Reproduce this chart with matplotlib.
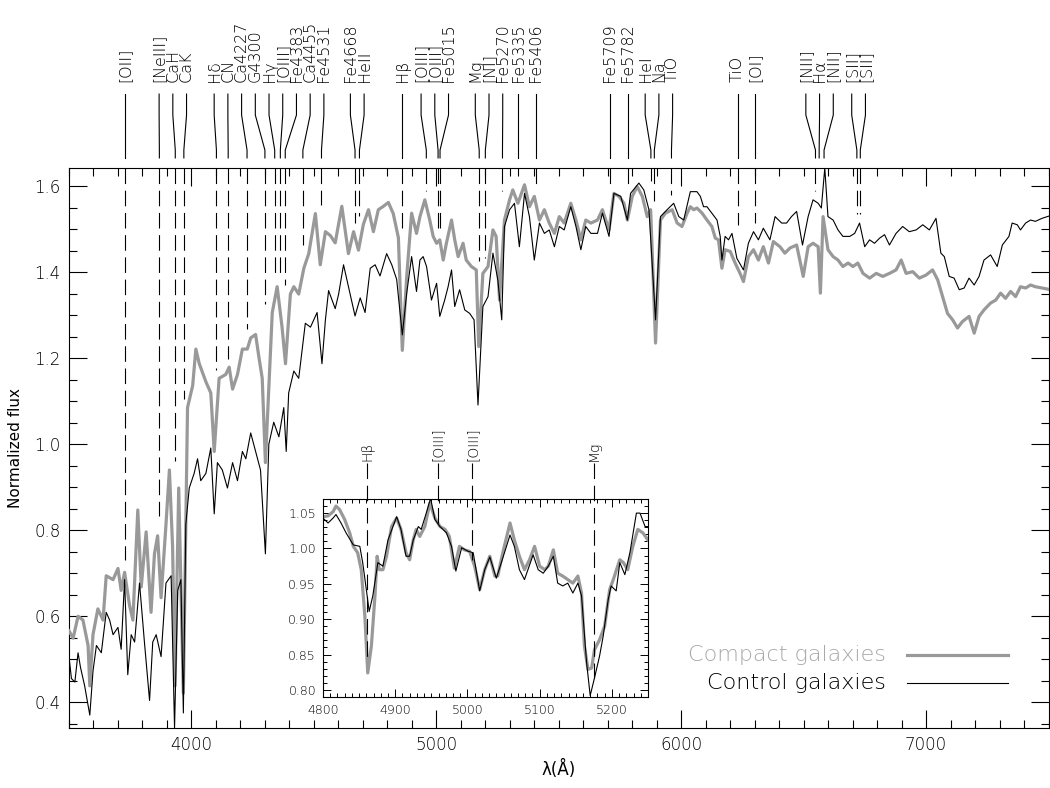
import numpy as np
import matplotlib
matplotlib.use('Agg')
import matplotlib.pyplot as plt
from matplotlib.ticker import MultipleLocator, FormatStrFormatter

plt.rcParams['font.family'] = ['DejaVu Sans']
plt.rcParams['font.weight'] = 'light'

# ---- composite spectra ----
wave_compact = [3500, 3517, 3537, 3557, 3578, 3585, 3598, 3618, 3639, 3652, 3680, 3700, 3713, 3727,
                3747, 3761, 3781, 3795, 3815, 3835, 3849, 3862, 3876, 3896, 3910, 3923, 3933, 3948,
                3967, 3984, 4005, 4018, 4032, 4059, 4079, 4093, 4113, 4140, 4154, 4168, 4188, 4208,
                4228, 4242, 4262, 4275, 4289, 4302, 4330, 4350, 4370, 4384, 4404, 4418, 4438, 4459,
                4479, 4506, 4526, 4547, 4567, 4587, 4614, 4641, 4662, 4682, 4702, 4723, 4743, 4763,
                4784, 4804, 4824, 4845, 4861, 4879, 4899, 4919, 4933, 4953, 4973, 4987, 5001, 5014,
                5028, 5041, 5062, 5075, 5089, 5109, 5122, 5143, 5163, 5173, 5190, 5211, 5231, 5244,
                5258, 5278, 5299, 5312, 5333, 5360, 5380, 5400, 5421, 5441, 5461, 5482, 5502, 5522,
                5549, 5570, 5590, 5610, 5631, 5658, 5678, 5705, 5725, 5746, 5766, 5780, 5800, 5820,
                5841, 5861, 5875, 5895, 5915, 5935, 5963, 5983, 6003, 6024, 6037, 6051, 6064, 6085,
                6105, 6125, 6139, 6152, 6166, 6179, 6200, 6220, 6240, 6254, 6274, 6295, 6315, 6335,
                6356, 6376, 6403, 6423, 6444, 6471, 6498, 6518, 6538, 6559, 6568, 6579, 6599, 6620,
                6640, 6660, 6681, 6701, 6721, 6742, 6769, 6796, 6823, 6850, 6877, 6898, 6918, 6945,
                6972, 6999, 7026, 7047, 7067, 7087, 7108, 7128, 7148, 7175, 7196, 7216, 7236, 7263,
                7284, 7304, 7324, 7345, 7365, 7385, 7406, 7426, 7446, 7473, 7500]
flux_compact = [0.566, 0.549, 0.600, 0.591, 0.532, 0.438, 0.557, 0.617, 0.591, 0.694, 0.685, 0.711, 0.660, 0.702,
                0.626, 0.591, 0.847, 0.668, 0.796, 0.609, 0.745, 0.787, 0.643, 0.813, 0.940, 0.762, 0.438, 0.898,
                0.421, 1.085, 1.136, 1.221, 1.187, 1.145, 1.119, 0.983, 1.153, 1.162, 1.179, 1.128, 1.162, 1.221,
                1.221, 1.247, 1.255, 1.204, 1.153, 0.957, 1.306, 1.366, 1.272, 1.187, 1.349, 1.366, 1.349, 1.409,
                1.443, 1.536, 1.417, 1.494, 1.485, 1.468, 1.553, 1.443, 1.494, 1.451, 1.511, 1.545, 1.494, 1.545,
                1.553, 1.562, 1.536, 1.480, 1.218, 1.390, 1.537, 1.490, 1.529, 1.568, 1.521, 1.483, 1.467, 1.475,
                1.428, 1.467, 1.521, 1.475, 1.436, 1.467, 1.428, 1.413, 1.405, 1.227, 1.397, 1.413, 1.498, 1.483,
                1.335, 1.521, 1.568, 1.591, 1.560, 1.603, 1.552, 1.576, 1.521, 1.545, 1.514, 1.490, 1.529, 1.514,
                1.560, 1.521, 1.475, 1.521, 1.514, 1.521, 1.545, 1.498, 1.583, 1.576, 1.560, 1.521, 1.576, 1.599,
                1.576, 1.529, 1.545, 1.235, 1.521, 1.537, 1.545, 1.514, 1.506, 1.537, 1.552, 1.545, 1.549, 1.537,
                1.521, 1.506, 1.479, 1.475, 1.409, 1.452, 1.448, 1.421, 1.397, 1.378, 1.436, 1.452, 1.428, 1.459,
                1.421, 1.471, 1.459, 1.444, 1.456, 1.463, 1.390, 1.459, 1.467, 1.459, 1.351, 1.529, 1.452, 1.436,
                1.428, 1.413, 1.421, 1.413, 1.421, 1.397, 1.386, 1.397, 1.390, 1.397, 1.405, 1.428, 1.397, 1.401,
                1.386, 1.393, 1.405, 1.382, 1.343, 1.304, 1.289, 1.270, 1.285, 1.297, 1.258, 1.297, 1.312, 1.328,
                1.335, 1.351, 1.339, 1.355, 1.343, 1.366, 1.363, 1.370, 1.366, 1.363, 1.360]

wave_control = [3500, 3510, 3524, 3537, 3547, 3564, 3585, 3598, 3612, 3632, 3652, 3666, 3680, 3700,
                3713, 3727, 3740, 3754, 3768, 3788, 3808, 3829, 3842, 3856, 3876, 3896, 3917, 3931,
                3944, 3957, 3967, 3977, 3991, 4011, 4025, 4038, 4059, 4079, 4093, 4106, 4126, 4147,
                4168, 4188, 4208, 4222, 4242, 4262, 4282, 4302, 4316, 4336, 4357, 4377, 4387, 4397,
                4418, 4438, 4465, 4486, 4513, 4533, 4547, 4560, 4587, 4601, 4621, 4641, 4668, 4689,
                4709, 4730, 4750, 4770, 4797, 4818, 4838, 4861, 4879, 4899, 4919, 4933, 4946, 4960,
                4980, 5001, 5014, 5034, 5048, 5062, 5075, 5095, 5116, 5136, 5154, 5170, 5190, 5211,
                5231, 5251, 5267, 5278, 5299, 5319, 5339, 5360, 5380, 5400, 5421, 5441, 5461, 5482,
                5502, 5522, 5549, 5570, 5590, 5610, 5631, 5658, 5678, 5705, 5725, 5753, 5780, 5793,
                5827, 5847, 5868, 5895, 5915, 5942, 5969, 5990, 6010, 6037, 6064, 6078, 6091, 6105,
                6125, 6146, 6159, 6166, 6179, 6193, 6207, 6227, 6254, 6274, 6295, 6315, 6335, 6362,
                6383, 6410, 6430, 6450, 6471, 6495, 6518, 6538, 6559, 6572, 6586, 6599, 6620, 6640,
                6660, 6688, 6708, 6728, 6749, 6769, 6789, 6810, 6830, 6850, 6877, 6904, 6931, 6959,
                6986, 7013, 7040, 7060, 7074, 7094, 7114, 7135, 7155, 7175, 7196, 7216, 7236, 7263,
                7290, 7311, 7338, 7351, 7372, 7385, 7406, 7426, 7446, 7473, 7500]
flux_control = [0.506, 0.455, 0.447, 0.515, 0.481, 0.438, 0.370, 0.472, 0.532, 0.515, 0.609, 0.591, 0.557, 0.574,
                0.523, 0.685, 0.464, 0.557, 0.540, 0.677, 0.540, 0.404, 0.540, 0.557, 0.506, 0.677, 0.694, 0.340,
                0.660, 0.685, 0.375, 0.813, 0.898, 0.932, 0.966, 0.915, 0.932, 0.991, 0.838, 0.957, 0.940, 0.898,
                0.957, 0.915, 0.983, 0.966, 1.026, 0.983, 0.940, 0.745, 1.000, 1.051, 1.017, 1.085, 0.983, 1.119,
                1.170, 1.153, 1.281, 1.272, 1.306, 1.187, 1.289, 1.357, 1.315, 1.349, 1.417, 1.366, 1.298, 1.340,
                1.306, 1.409, 1.417, 1.391, 1.443, 1.417, 1.383, 1.254, 1.351, 1.436, 1.355, 1.428, 1.436, 1.413,
                1.335, 1.374, 1.297, 1.335, 1.366, 1.405, 1.320, 1.359, 1.312, 1.304, 1.289, 1.091, 1.320, 1.343,
                1.444, 1.382, 1.289, 1.506, 1.545, 1.560, 1.459, 1.583, 1.529, 1.428, 1.514, 1.490, 1.498, 1.459,
                1.506, 1.498, 1.552, 1.506, 1.452, 1.506, 1.490, 1.490, 1.537, 1.483, 1.583, 1.576, 1.521, 1.583,
                1.607, 1.591, 1.545, 1.289, 1.529, 1.545, 1.560, 1.529, 1.521, 1.587, 1.587, 1.576, 1.552, 1.552,
                1.537, 1.521, 1.483, 1.428, 1.483, 1.475, 1.490, 1.432, 1.405, 1.467, 1.494, 1.475, 1.502, 1.475,
                1.529, 1.514, 1.514, 1.529, 1.541, 1.463, 1.529, 1.568, 1.560, 1.549, 1.642, 1.529, 1.521, 1.498,
                1.483, 1.483, 1.490, 1.514, 1.459, 1.475, 1.467, 1.479, 1.487, 1.463, 1.490, 1.506, 1.494, 1.498,
                1.510, 1.498, 1.525, 1.444, 1.436, 1.390, 1.386, 1.359, 1.363, 1.386, 1.370, 1.390, 1.428, 1.440,
                1.413, 1.463, 1.483, 1.514, 1.510, 1.498, 1.514, 1.521, 1.518, 1.525, 1.530]

# ---- inset: Hbeta - Mg region ----
inset_wave_compact = [4800, 4807, 4814, 4818, 4823, 4830, 4837, 4842, 4848, 4853, 4858, 4862, 4867, 4872,
                      4875, 4878, 4883, 4888, 4895, 4902, 4908, 4915, 4920, 4925, 4929, 4934, 4941, 4948,
                      4955, 4962, 4969, 4975, 4982, 4989, 4996, 5003, 5010, 5017, 5024, 5031, 5038, 5042,
                      5049, 5059, 5065, 5072, 5079, 5086, 5093, 5100, 5107, 5112, 5119, 5125, 5132, 5139,
                      5146, 5153, 5158, 5162, 5167, 5172, 5176, 5183, 5190, 5197, 5202, 5211, 5216, 5222,
                      5229, 5236, 5243, 5250]
inset_flux_compact = [1.045, 1.046, 1.052, 1.060, 1.055, 1.041, 1.022, 1.003, 0.994, 0.970, 0.904, 0.824, 0.862, 0.933,
                      0.989, 0.970, 0.970, 0.989, 1.031, 1.043, 1.027, 0.994, 0.984, 1.012, 1.027, 1.017, 1.031, 1.064,
                      1.043, 1.031, 1.027, 1.017, 0.972, 1.003, 0.998, 0.996, 0.975, 0.942, 0.970, 0.989, 0.961, 0.961,
                      0.994, 1.036, 1.012, 0.989, 0.970, 0.984, 1.003, 0.975, 0.970, 0.975, 0.998, 0.965, 0.961, 0.956,
                      0.951, 0.961, 0.937, 0.862, 0.829, 0.831, 0.857, 0.871, 0.890, 0.942, 0.956, 0.984, 0.980, 0.970,
                      1.003, 1.027, 1.022, 1.012]
inset_wave_control = [4800, 4807, 4814, 4818, 4825, 4832, 4842, 4851, 4855, 4860, 4864, 4869, 4876, 4883,
                      4890, 4902, 4908, 4915, 4920, 4925, 4932, 4936, 4943, 4949, 4955, 4962, 4971, 4978,
                      4984, 4992, 5001, 5008, 5017, 5024, 5031, 5040, 5047, 5059, 5065, 5072, 5079, 5091,
                      5098, 5105, 5112, 5119, 5125, 5132, 5139, 5146, 5153, 5158, 5165, 5170, 5176, 5183,
                      5188, 5195, 5199, 5206, 5211, 5218, 5225, 5234, 5239, 5246, 5250]
inset_flux_control = [1.043, 1.036, 1.043, 1.048, 1.036, 1.022, 1.005, 1.003, 0.980, 0.942, 0.911, 0.933, 0.980, 0.975,
                      1.012, 1.045, 1.027, 0.989, 0.989, 1.012, 1.031, 1.027, 1.050, 1.071, 1.041, 1.031, 1.022, 1.003,
                      0.968, 1.001, 0.996, 0.994, 0.940, 0.970, 0.988, 0.958, 0.980, 1.019, 1.003, 0.970, 0.956, 0.991,
                      0.970, 0.965, 0.975, 0.989, 0.951, 0.947, 0.951, 0.937, 0.951, 0.933, 0.839, 0.792, 0.817, 0.848,
                      0.876, 0.928, 0.947, 0.940, 0.980, 0.963, 0.994, 1.050, 1.050, 1.031, 1.031]

# ---- spectral features ----
line_names = ['[OII]', '[NeIII]', 'CaH', 'CaK', 'Hδ', 'CN', 'Ca4227', 'G4300', 'Hγ', '[OIII]',
              'Fe4383', 'Ca4455', 'Fe4531', 'Fe4668', 'HeII', 'Hβ', '[OIII]', '[OIII]', 'Fe5015',
              'Mg', '[NI]', 'Fe5270', 'Fe5335', 'Fe5406', 'Fe5709', 'Fe5782', 'HeI', 'Na', 'TiO',
              'TiO', '[OI]', '[NII]', 'Hα', '[NII]', '[SII]', '[SII]']
line_waves = [3727, 3869, 3934, 3969, 4102, 4150, 4227, 4300, 4340, 4363,
              4383, 4455, 4531, 4668, 4686, 4861, 4959, 5007, 5015,
              5175, 5200, 5270, 5335, 5406, 5709, 5782, 5876, 5890, 5960,
              6230, 6300, 6548, 6563, 6583, 6717, 6731]
inset_names = ['Hβ', '[OIII]', '[OIII]', 'Mg']
inset_waves = [4861, 4959, 5007, 5175]

GREY = '#999999'


def spread_labels(x, sep):
    """merge overlapping labels into evenly spaced groups centred on their lines"""
    groups = [[v] for v in x]
    changed = True
    while changed:
        changed = False
        pos = []
        for g in groups:
            c = np.mean(g)
            pos.append((c - sep * (len(g) - 1) / 2, c + sep * (len(g) - 1) / 2))
        for i in range(len(groups) - 1):
            if pos[i + 1][0] - pos[i][1] < sep:
                groups[i] = groups[i] + groups.pop(i + 1)
                changed = True
                break
    out = []
    for g in groups:
        c = np.mean(g)
        out += list(c + sep * (np.arange(len(g)) - (len(g) - 1) / 2))
    return out


fig = plt.figure(figsize=(10.5, 7.88), dpi=100)
ax = fig.add_axes([0.0657, 0.0761, 0.933, 0.7107])

ax.plot(wave_compact, flux_compact, color=GREY, lw=2.3, zorder=3)
ax.plot(wave_control, flux_control, color='black', lw=0.8, zorder=4)

ax.set_xlim(3500, 7500)
ax.set_ylim(0.34, 1.642)
ax.xaxis.set_major_locator(MultipleLocator(1000))
ax.xaxis.set_minor_locator(MultipleLocator(100))
ax.yaxis.set_major_locator(MultipleLocator(0.2))
ax.yaxis.set_minor_locator(MultipleLocator(0.05))
ax.yaxis.set_major_formatter(FormatStrFormatter('%.1f'))
ax.tick_params(which='both', direction='in', top=True, right=True, width=0.8, labelsize=12)
ax.tick_params(which='major', length=13, pad=6)
ax.tick_params(which='minor', length=6)
for s in ax.spines.values():
    s.set_linewidth(0.8)
ax.set_xlabel('λ(Å)', fontsize=12, labelpad=4)
ax.set_ylabel('Normalized flux', fontsize=11, labelpad=8)

# dashed markers in the plot, ending just above the spectra
wc = np.array(wave_compact)
wk = np.array(wave_control)
fc = np.array(flux_compact)
fk = np.array(flux_control)
ytop = ax.get_ylim()[1]
for w in line_waves:
    near = max(fc[np.abs(wc - w) <= 30].max(initial=0), fk[np.abs(wk - w) <= 30].max(initial=0),
               np.interp(w, wc, fc), np.interp(w, wk, fk))
    yend = near + 0.02
    if yend < ytop - 0.01:
        ax.plot([w, w], [ytop, yend], color='black', lw=0.8, ls=(0, (14, 6)), zorder=2)

# labels above the frame, connected to their wavelengths
tr = ax.get_xaxis_transform()
label_x = spread_labels(line_waves, 56)
for name, w, lx in zip(line_names, line_waves, label_x):
    ax.plot([lx, lx, w, w], [1.132, 1.0946, 1.032, 1.018], color='black', lw=0.8,
            transform=tr, clip_on=False)
    ax.text(lx, 1.154, name, rotation=90, ha='center', va='bottom', fontsize=11.5,
            transform=tr)

# legend
ax.text(0.834, 0.130, 'Compact galaxies', color='#a8a8a8', fontsize=16, ha='right',
        va='center', transform=ax.transAxes)
ax.plot([0.855, 0.959], [0.130, 0.130], color=GREY, lw=2.3, transform=ax.transAxes)
ax.text(0.834, 0.080, 'Control galaxies', color='black', fontsize=16, ha='right',
        va='center', transform=ax.transAxes)
ax.plot([0.855, 0.959], [0.080, 0.080], color='black', lw=0.8, transform=ax.transAxes)

# inset
ins = fig.add_axes([0.3076, 0.1155, 0.3095, 0.2513])
ins.plot(inset_wave_compact, inset_flux_compact, color=GREY, lw=2.3)
ins.plot(inset_wave_control, inset_flux_control, color='black', lw=0.8)
ins.set_xlim(4800, 5250)
ins.set_ylim(0.79, 1.07)
ins.xaxis.set_major_locator(MultipleLocator(100))
ins.xaxis.set_minor_locator(MultipleLocator(10))
ins.yaxis.set_major_locator(MultipleLocator(0.05))
ins.yaxis.set_minor_locator(MultipleLocator(0.01))
ins.yaxis.set_major_formatter(FormatStrFormatter('%.2f'))
ins.tick_params(which='both', direction='in', top=True, right=True, width=0.7, labelsize=9)
ins.tick_params(which='major', length=6, pad=5)
ins.tick_params(which='minor', length=3)
for s in ins.spines.values():
    s.set_linewidth(0.8)

iwc = np.array(inset_wave_compact)
iwk = np.array(inset_wave_control)
ifc = np.array(inset_flux_compact)
ifk = np.array(inset_flux_control)
itr = ins.get_xaxis_transform()
for name, w in zip(inset_names, inset_waves):
    yend = min(np.interp(w, iwc, ifc), np.interp(w, iwk, ifk))
    ins.plot([w, w], [1.121, yend], color='black', lw=0.8, ls=(0, (14, 6)), clip_on=False)
    ins.text(w, 1.19, name, rotation=90, ha='center', va='bottom', fontsize=10,
             transform=itr)

fig.savefig('out.png', dpi=100)
